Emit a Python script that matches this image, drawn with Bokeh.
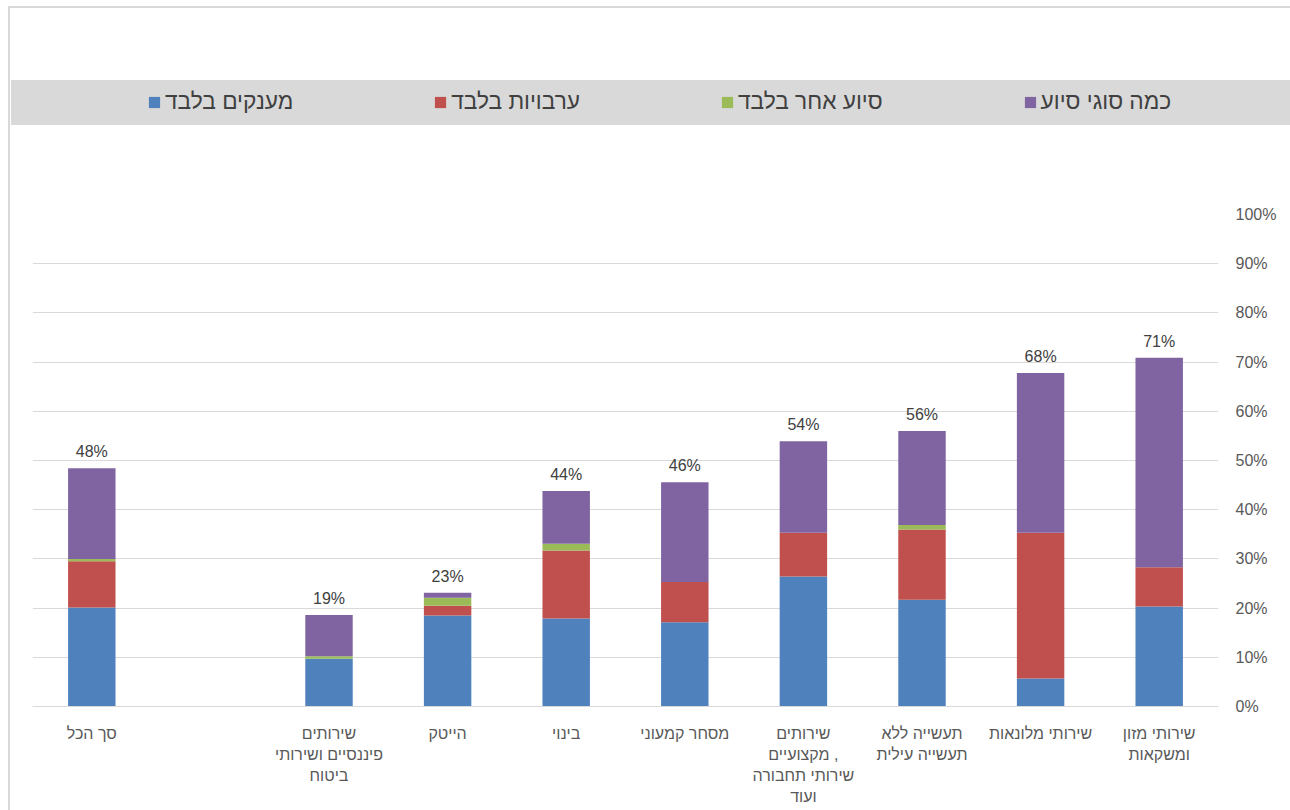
from bokeh.plotting import figure
from bokeh.layouts import column
from bokeh.models import (FactorRange, Range1d, FixedTicker, PrintfTickFormatter,
                          ColumnDataSource)
from bokeh.core.properties import value
from bokeh.embed import file_html
from bokeh.resources import INLINE

categories = [
    "סך הכל",
    "שירותים\nפיננסיים ושירותי\nביטוח",
    "הייטק",
    "בינוי",
    "מסחר קמעוני",
    "שירותים\nמקצועיים ,\nשירותי תחבורה\nועוד",
    "תעשייה ללא\nתעשייה עילית",
    "שירותי מלונאות",
    "שירותי מזון\nומשקאות",
]
grants = [20.1, 9.7, 18.5, 17.9, 17.1, 26.4, 21.7, 5.7, 20.3]
guarantees = [9.4, 0.0, 2.0, 13.8, 8.2, 8.9, 14.3, 29.6, 8.0]
other = [0.5, 0.5, 1.6, 1.4, 0.0, 0.0, 0.9, 0.0, 0.0]
several = [18.4, 8.4, 1.0, 10.7, 20.3, 18.6, 19.1, 32.5, 42.6]
series_names = ["מענקים בלבד", "ערבויות בלבד", "סיוע אחר בלבד", "כמה סוגי סיוע"]
colors = ["#4f81bd", "#c0504d", "#9bbb59", "#8064a2"]
y_ticks = [0, 10, 20, 30, 40, 50, 60, 70, 80, 90, 100]

FONT = "Liberation Sans"
BORDER = "#d9d9d9"
W, H = 1290, 810
OFF_X, OFF_Y = 10, 8    # page offset of the canvases: margin + 2px chart border
FRAME_TOP = 214          # page y of the 100% line
SPLIT = 194              # page y where the legend canvas ends and the chart canvas starts
ML, MR = 32 - OFF_X, 72  # left / right borders around the plot frame

# empty slot after the first category, as in the original
x_factors = [categories[0], " "] + categories[1:]

totals = [g + r + o + s for g, r, o, s in zip(grants, guarantees, other, several)]
total_labels = [f"{t:.0f}%" for t in totals]

keys = ["grants", "guarantees", "other", "several"]
source = ColumnDataSource(dict(
    cat=categories, grants=grants, guarantees=guarantees, other=other,
    several=several, total=totals, label=total_labels,
))

# ---------- top part: holds the legend (grey band comes from the CSS background) ----------
top = figure(width=W - OFF_X, height=SPLIT - OFF_Y,
             x_range=Range1d(0, 1), y_range=Range1d(0, 1),
             toolbar_location=None, output_backend="svg",
             min_border_left=ML, min_border_right=MR,
             min_border_top=0, min_border_bottom=0)
top.axis.visible = False
top.grid.visible = False
top.outline_line_color = None
top.background_fill_alpha = 0
top.border_fill_alpha = 0

# zero-size legend proxies, one per series
for name, c in zip(series_names, colors):
    top.quad(left=[0], right=[0], top=[0], bottom=[0], fill_color=c, line_color=None,
             legend_label=name)
leg = top.legend[0]
leg.orientation = "horizontal"
leg.location = (147 - 32, SPLIT - 115)
leg.background_fill_alpha = 0
leg.border_line_color = None
leg.padding = 0
leg.margin = 0
leg.spacing = 140
leg.glyph_width = 14
leg.glyph_height = 14
leg.label_standoff = 4
leg.label_text_font = FONT
leg.label_text_font_size = "22.7px"
leg.label_text_color = "#404040"

# ---------- main chart ----------
p = figure(
    width=W - OFF_X, height=H - SPLIT,
    x_range=FactorRange(factors=x_factors, range_padding=0),
    y_range=Range1d(0, 100),
    y_axis_location="right",
    toolbar_location=None, output_backend="svg",
    min_border_left=ML, min_border_right=MR,
    min_border_top=FRAME_TOP - SPLIT, min_border_bottom=104,
)
p.outline_line_color = None
p.background_fill_color = "white"
p.border_fill_alpha = 0

p.vbar_stack(keys, x="cat", width=0.4, color=colors, line_color=None, source=source)

p.text(x="cat", y="total", text="label", source=source,
       text_align="center", text_baseline="bottom", y_offset=-8,
       text_font=value(FONT), text_font_size="16px", text_color="#404040")

p.xgrid.grid_line_color = None
p.ygrid.grid_line_color = BORDER
p.ygrid.ticker = FixedTicker(ticks=y_ticks)

yax = p.yaxis[0]
yax.ticker = FixedTicker(ticks=y_ticks)
yax.formatter = PrintfTickFormatter(format="%d%%")
yax.axis_line_color = None
yax.major_tick_line_color = None
yax.minor_tick_line_color = None
yax.major_tick_out = 0
yax.major_label_standoff = 17
yax.major_label_text_font = FONT
yax.major_label_text_font_size = "16px"
yax.major_label_text_color = "#595959"

xax = p.xaxis[0]
xax.axis_line_color = BORDER
xax.major_tick_line_color = None
xax.minor_tick_line_color = None
xax.major_label_standoff = 12
xax.major_label_text_font = FONT
xax.major_label_text_font_size = "16px"
xax.major_label_text_color = "#595959"
xax.major_label_text_line_height = 1.25

layout = column(top, p, spacing=0)
# chart border (left/top) and the grey legend band behind the transparent canvases
layout.styles = {
    "margin-left": "8px", "margin-top": "6px",
    "border-left": "2px solid #d9d9d9", "border-top": "2px solid #d9d9d9",
    "background-color": "white",
    "background-image": "linear-gradient(#d9d9d9, #d9d9d9)",
    "background-repeat": "no-repeat",
    "background-position": "1px 72px",
    "background-size": "1279px 45px",
}

open("out.html", "w").write(file_html(layout, INLINE))
